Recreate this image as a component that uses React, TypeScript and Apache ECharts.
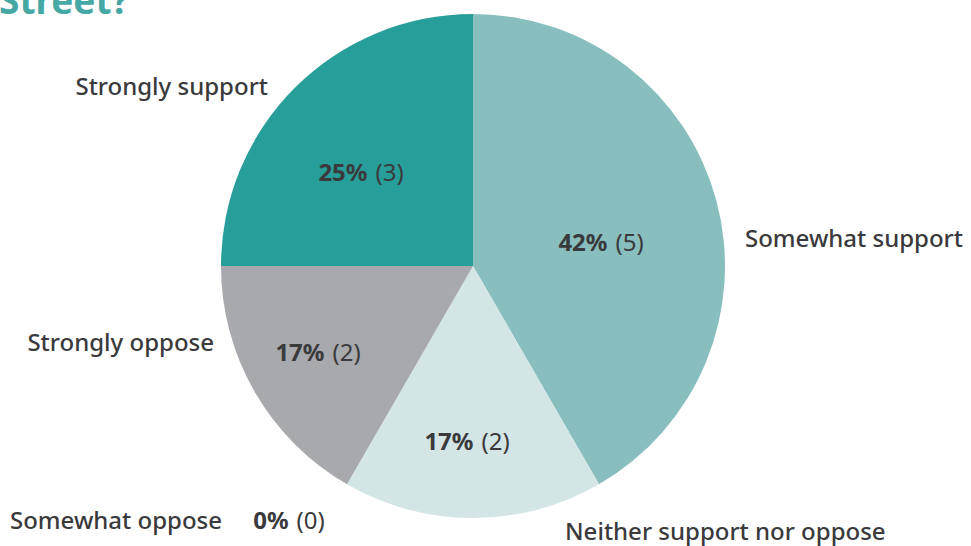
import React, { useEffect, useRef } from "react";
import * as echarts from "echarts";

const categories = [
  "Somewhat support",
  "Neither support nor oppose",
  "Somewhat oppose",
  "Strongly oppose",
  "Strongly support",
];
const counts = [5, 2, 0, 2, 3];
const colors = ["#88bfbe", "#d3e5e5", "#c9c9cc", "#a8a9ad", "#289e9a"];

// label placement (pixel positions of the name labels and value labels)
const nameLabelPos: { x: number; y: number; align: string }[] = [
  { x: 745, y: 237, align: "left" },
  { x: 565, y: 530, align: "left" },
  { x: 10, y: 519, align: "left" },
  { x: 214, y: 341, align: "right" },
  { x: 268, y: 85, align: "right" },
];
const valueLabelPos: { x: number; y: number }[] = [
  { x: 601, y: 241 },
  { x: 467, y: 440 },
  { x: 289, y: 519 },
  { x: 318, y: 351 },
  { x: 361, y: 171 },
];

const FONT = "'Noto Sans', 'Open Sans', sans-serif";
const TEXT = "#3a3a3c";

export default function App() {
  const ref = useRef<HTMLDivElement>(null);

  useEffect(() => {
    if (!ref.current) return;
    const chart = echarts.init(ref.current, undefined, { renderer: "svg" });
    const total = counts.reduce((a, b) => a + b, 0);
    const data = categories.map((name, i) => ({
      name,
      value: counts[i],
      itemStyle: { color: colors[i] },
    }));

    chart.setOption({
      animation: false,
      backgroundColor: "#ffffff",
      graphic: [
        {
          type: "text",
          left: -1,
          top: -19,
          style: {
            text: "Street?",
            fill: "#46a8a5",
            font: `bold 37px ${FONT}`,
          },
        },
      ],
      series: [
        {
          type: "pie",
          center: [473, 266],
          radius: [0, 252],
          startAngle: 90,
          clockwise: true,
          minAngle: 0,
          stillShowZeroSum: true,
          avoidLabelOverlap: false,
          silent: true,
          data,
          label: {
            show: true,
            position: "inside",
            formatter: (p: any) =>
              `{b|${Math.round((p.value / total) * 100)}%}{s| }{n|(${p.value})}`,
            rich: {
              b: { fontFamily: FONT, fontWeight: "bold", fontSize: 24, color: TEXT },
              s: { fontFamily: FONT, fontSize: 24, width: 8 },
              n: { fontFamily: FONT, fontWeight: "normal", fontSize: 24, color: TEXT },
            },
          },
          labelLine: { show: false },
          labelLayout: (p: any) => {
            const pos = valueLabelPos[p.dataIndex];
            return { x: pos.x, y: pos.y, align: "center", verticalAlign: "middle" };
          },
        },
        {
          type: "pie",
          center: [473, 266],
          radius: [0, 252],
          startAngle: 90,
          clockwise: true,
          stillShowZeroSum: true,
          avoidLabelOverlap: false,
          silent: true,
          data: data.map((d) => ({ ...d, itemStyle: { color: "rgba(0,0,0,0)" } })),
          label: {
            show: true,
            position: "outside",
            formatter: "{b}",
            fontFamily: FONT,
            fontWeight: 500,
            fontSize: 24,
            color: TEXT,
          },
          labelLine: { show: false },
          labelLayout: (p: any) => {
            const pos = nameLabelPos[p.dataIndex];
            return { x: pos.x, y: pos.y, align: pos.align, verticalAlign: "middle" };
          },
        },
      ],
    });
    return () => chart.dispose();
  }, []);

  return (
    <div
      ref={ref}
      style={{ position: "fixed", left: 0, top: 0, width: 971, height: 546 }}
    />
  );
}
